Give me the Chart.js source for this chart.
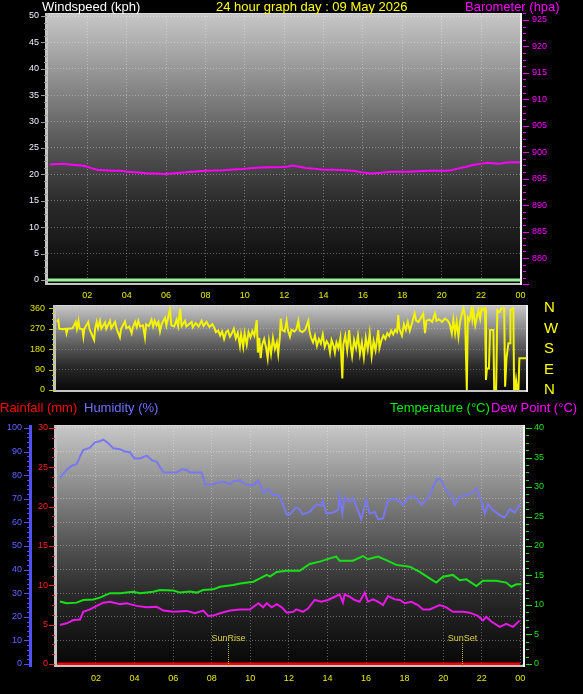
<!DOCTYPE html>
<html>
<head>
<meta charset="utf-8">
<script src="https://cdn.jsdelivr.net/npm/chart.js@4.4.1/dist/chart.umd.min.js"></script>
<style>
html, body { margin: 0; padding: 0; background: #000; width: 583px; height: 694px; overflow: hidden; }
canvas { position: absolute; left: 0; }
.lbl { position: absolute; font: 13px "Liberation Sans", Arial, sans-serif; line-height: 15px; white-space: nowrap; z-index: 2; }
</style>
</head>
<body>
<canvas id="topChart" width="583" height="302" style="top:0"></canvas>
<canvas id="dirChart" width="583" height="100" style="top:300px"></canvas>
<canvas id="envChart" width="583" height="279" style="top:415px"></canvas>

<div class="lbl" style="left:42px;top:-1px;color:#ffffff">Windspeed (kph)</div>
<div class="lbl" style="left:216px;top:-1px;color:#ffff00">24 hour graph day : 09 May 2026</div>
<div class="lbl" style="left:465px;top:-1px;color:#ff00ff">Barometer (hpa)</div>
<div class="lbl" style="left:0;top:400px;color:#ff0000">Rainfall (mm)</div>
<div class="lbl" style="left:84px;top:400px;color:#7070ff">Humidity (%)</div>
<div class="lbl" style="left:390px;top:400px;color:#00ee00">Temperature (°C)</div>
<div class="lbl" style="left:491px;top:400px;color:#ff00ff">Dew Point (°C)</div>

<script>
// ---- données ----
const hourTicks = [2, 4, 6, 8, 10, 12, 14, 16, 18, 20, 22, 24];

// panneau du haut : vent + baromètre
const windTicks = [0, 5, 10, 15, 20, 25, 30, 35, 40, 45, 50];
const baroTicks = [880, 885, 890, 895, 900, 905, 910, 915, 920, 925];
const windHours = [0, 3, 6, 9, 12, 15, 18, 21, 24];
const windSpeed = [0, 0, 0, 0, 0, 0, 0, 0, 0];
const baroHours = [0.1, 0.7, 1.4, 1.9, 2.2, 2.5, 2.9, 3.3, 3.7, 4.0, 4.4, 4.8, 5.1, 5.5, 5.9, 6.3, 6.7, 7.0, 7.5, 8.0,
  8.5, 8.9, 9.4, 9.9, 10.4, 10.8, 11.3, 11.9, 12.2, 12.4, 12.7, 13.1, 13.5, 14.0, 14.5, 15.1, 15.5, 15.9, 16.4, 16.9,
  17.4, 17.9, 18.3, 18.8, 19.3, 19.8, 20.2, 20.5, 20.8, 21.2, 21.6, 22.0, 22.3, 22.6, 22.9, 23.2, 23.5, 23.8, 24.0];
const baroValues = [897.7, 897.8, 897.6, 897.4, 897.0, 896.7, 896.6, 896.5, 896.5, 896.3, 896.2, 896.1, 896.0, 896.0, 895.9, 896.0, 896.1, 896.2, 896.35, 896.5,
  896.55, 896.6, 896.75, 896.85, 897.0, 897.1, 897.15, 897.2, 897.3, 897.5, 897.3, 897.0, 896.9, 896.7, 896.7, 896.6, 896.5, 896.2, 896.0, 896.1,
  896.3, 896.3, 896.3, 896.4, 896.5, 896.5, 896.5, 896.6, 896.9, 897.2, 897.6, 897.8, 898.0, 897.9, 897.8, 898.0, 898.1, 898.1, 898.1];

// panneau du milieu : direction du vent
const dirTicks = [0, 90, 180, 270, 360];
const compassLabels = ['N', 'E', 'S', 'W', 'N'];
const dirHours = [0.00, 0.07, 0.12, 0.30, 0.45, 0.49, 0.55, 0.80, 0.96, 1.02, 1.10, 1.16, 1.30, 1.35, 1.40, 1.60, 1.66, 1.86, 1.90, 1.95,
  2.03, 2.10, 2.20, 2.27, 2.46, 2.52, 2.71, 2.78, 2.97, 3.05, 3.22, 3.28, 3.48, 3.55, 3.70, 3.82, 3.88, 4.00, 4.08, 4.16,
  4.25, 4.40, 4.50, 4.56, 4.70, 4.84, 4.92, 5.00, 5.10, 5.19, 5.27, 5.35, 5.53, 5.60, 5.78, 5.85, 6.00, 6.12, 6.20, 6.30,
  6.38, 6.55, 6.62, 6.75, 6.89, 6.95, 7.10, 7.25, 7.40, 7.50, 7.65, 7.80, 7.95, 8.05, 8.13, 8.25, 8.35, 8.45, 8.55, 8.65,
  8.75, 8.85, 8.95, 9.05, 9.15, 9.25, 9.36, 9.42, 9.53, 9.60, 9.71, 9.80, 9.90, 10.00, 10.10, 10.22, 10.28, 10.35, 10.42, 10.50,
  10.60, 10.70, 10.78, 10.85, 10.95, 11.05, 11.15, 11.25, 11.32, 11.40, 11.45, 11.52, 11.65, 11.75, 11.82, 11.92, 12.00, 12.15, 12.25, 12.35,
  12.42, 12.55, 12.70, 12.86, 12.92, 13.00, 13.10, 13.20, 13.30, 13.40, 13.50, 13.60, 13.70, 13.80, 13.90, 13.97, 14.05, 14.15, 14.22, 14.30,
  14.40, 14.50, 14.60, 14.65, 14.75, 14.85, 14.95, 15.02, 15.10, 15.20, 15.30, 15.40, 15.50, 15.60, 15.70, 15.80, 15.90, 16.00, 16.10, 16.20,
  16.30, 16.44, 16.50, 16.60, 16.70, 16.80, 16.90, 17.00, 17.10, 17.20, 17.30, 17.40, 17.46, 17.52, 17.65, 17.75, 17.85, 17.95, 18.05, 18.15,
  18.30, 18.38, 18.50, 18.60, 18.74, 18.83, 18.90, 19.05, 19.20, 19.34, 19.42, 19.55, 19.70, 19.85, 20.00, 20.10, 20.20, 20.28, 20.37, 20.45,
  20.54, 20.62, 20.70, 20.80, 20.88, 20.97, 21.02, 21.10, 21.20, 21.25, 21.30, 21.40, 21.48, 21.56, 21.65, 21.72, 21.80, 21.90, 21.95, 22.00,
  22.10, 22.16, 22.33, 22.37, 22.47, 22.53, 22.65, 22.75, 22.88, 22.93, 23.00, 23.10, 23.18, 23.20, 23.30, 23.35, 23.39, 23.44, 23.49, 23.55,
  23.61, 23.66, 24.03];
const dirValues = [300, 308, 270, 268, 270, 250, 270, 272, 300, 270, 305, 270, 268, 235, 270, 300, 270, 228, 220, 270,
  300, 272, 305, 270, 298, 270, 304, 272, 300, 270, 232, 270, 302, 272, 280, 250, 275, 300, 278, 305,
  280, 285, 232, 290, 282, 310, 280, 305, 285, 300, 258, 290, 318, 285, 356, 285, 280, 310, 282, 360,
  282, 305, 280, 290, 300, 276, 295, 280, 305, 282, 300, 278, 290, 275, 255, 262, 240, 258, 225, 255,
  262, 235, 250, 270, 228, 252, 195, 245, 190, 250, 200, 255, 232, 260, 240, 308, 165, 230, 140, 200,
  225, 185, 140, 215, 160, 230, 180, 210, 160, 230, 315, 265, 258, 305, 262, 235, 265, 258, 268, 305,
  262, 255, 265, 305, 258, 230, 210, 240, 195, 225, 205, 245, 190, 215, 200, 165, 220, 195, 165, 210,
  185, 230, 51, 200, 240, 175, 264, 200, 150, 220, 185, 240, 160, 210, 145, 230, 180, 250, 150, 215,
  175, 264, 185, 220, 240, 225, 250, 238, 262, 245, 265, 255, 330, 270, 240, 290, 265, 300, 262, 290,
  337, 305, 300, 315, 337, 250, 305, 310, 300, 337, 305, 312, 300, 315, 305, 290, 250, 310, 250, 300,
  235, 300, 330, 360, 320, 0, 320, 308, 352, 315, 352, 286, 320, 352, 315, 360, 352, 360, 44, 95,
  95, 264, 264, 0, 0, 352, 345, 360, 360, 14, 140, 206, 206, 352, 360, 360, 0, 0, 44, 0,
  0, 140, 140];

// panneau du bas : pluie, humidité, température, point de rosée
const humTicks = [0, 10, 20, 30, 40, 50, 60, 70, 80, 90, 100];
const rainTicks = [0, 5, 10, 15, 20, 25, 30];
const tempTicks = [0, 5, 10, 15, 20, 25, 30, 35, 40];
const rainHours = [0, 6, 12, 18, 24];
const rainValues = [0, 0, 0, 0, 0];
const humHours = [0.13, 0.48, 0.74, 1.0, 1.17, 1.34, 1.69, 1.95, 2.2, 2.38, 2.64, 2.9, 3.25, 3.5, 3.76, 4.0, 4.28, 4.63, 4.89, 5.15,
  5.49, 6.18, 6.44, 6.7, 6.87, 7.48, 7.65, 8.08, 8.26, 8.6, 8.95, 9.12, 9.47, 9.73, 10.16, 10.42, 10.67, 10.93, 11.19, 11.45,
  11.63, 11.89, 12.06, 12.32, 12.47, 12.73, 13.08, 13.42, 13.68, 13.77, 13.94, 14.29, 14.55, 14.63, 14.77, 14.89, 15.15, 15.32, 15.5, 15.75,
  16.01, 16.19, 16.45, 16.62, 16.88, 17.14, 17.49, 17.75, 17.92, 18.18, 18.43, 18.69, 18.87, 19.12, 19.38, 19.64, 19.82, 19.99, 20.16, 20.42,
  20.6, 20.86, 21.2, 21.46, 21.72, 21.98, 22.15, 22.32, 22.58, 22.93, 23.19, 23.45, 23.71, 23.96];
const humValues = [78.9, 82.2, 84.0, 84.7, 87.9, 90.7, 91.7, 93.9, 94.4, 95.1, 93.5, 91.4, 91.0, 90.0, 89.7, 87.1, 87.1, 88.3, 86.4, 85.7,
  81.2, 81.1, 82.5, 82.2, 81.1, 81.1, 76.1, 76.1, 76.7, 77.3, 76.1, 77.5, 77.8, 76.1, 75.8, 77.8, 72.7, 74.1, 71.6, 71.6,
  68.8, 63.4, 63.4, 66.0, 66.2, 63.4, 64.5, 67.6, 67.1, 69.1, 63.8, 64.2, 65.3, 71.3, 63.8, 70.4, 68.8, 70.2, 66.7, 61.4,
  69.5, 63.8, 64.5, 61.4, 61.7, 69.5, 69.9, 68.8, 67.4, 70.4, 71.3, 69.5, 67.4, 69.5, 73.0, 78.0, 78.4, 76.7, 73.4, 71.6,
  67.4, 70.9, 71.6, 72.3, 74.4, 69.1, 63.8, 67.6, 65.3, 63.1, 62.0, 65.7, 64.2, 67.6];
const tempHours = [0.13, 0.48, 1.0, 1.34, 1.86, 2.2, 2.73, 3.25, 3.93, 4.28, 4.97, 5.32, 6.01, 6.36, 6.87, 7.22, 7.56, 8.08, 8.43, 9.12,
  9.47, 10.16, 10.5, 10.85, 11.02, 11.37, 11.89, 12.56, 13.08, 13.6, 14.12, 14.46, 14.63, 15.32, 15.84, 16.1, 16.62, 17.05, 17.57, 18.26,
  18.78, 19.3, 19.64, 19.99, 20.5, 20.86, 21.2, 21.72, 22.06, 22.75, 23.27, 23.53, 23.79, 24.05];
const tempValues = [10.6, 10.3, 10.4, 10.85, 10.95, 11.25, 12.0, 12.0, 12.25, 12.0, 12.25, 12.55, 12.45, 12.1, 12.3, 12.1, 12.55, 12.65, 13.1, 13.4,
  13.65, 13.95, 14.5, 15.1, 14.8, 15.6, 15.8, 15.8, 16.95, 17.35, 17.9, 18.2, 17.5, 17.5, 18.3, 17.75, 18.2, 17.6, 16.8, 16.5,
  15.6, 14.5, 13.8, 14.8, 15.1, 14.2, 14.35, 13.2, 14.1, 14.1, 13.8, 13.1, 13.5, 13.5];
const dewHours = [0.13, 0.48, 0.83, 1.17, 1.34, 1.69, 2.04, 2.38, 2.73, 3.25, 3.59, 4.11, 4.63, 5.15, 5.49, 6.01, 6.7, 7.13, 7.56, 7.82,
  8.08, 8.43, 8.95, 9.47, 9.98, 10.42, 10.67, 10.85, 11.11, 11.37, 11.63, 11.89, 12.23, 12.38, 12.73, 12.99, 13.34, 13.68, 14.03, 14.38,
  14.63, 14.8, 14.89, 15.15, 15.41, 15.67, 15.93, 16.1, 16.36, 16.62, 16.88, 17.14, 17.49, 17.75, 18.01, 18.35, 18.69, 18.95, 19.3, 19.82,
  20.16, 20.5, 21.03, 21.37, 21.8, 22.06, 22.23, 22.49, 22.93, 23.27, 23.62, 23.96];
const dewValues = [6.6, 6.9, 7.45, 7.55, 8.85, 9.25, 9.85, 10.4, 10.55, 10.15, 10.3, 9.85, 9.6, 9.7, 9.05, 8.85, 9.0, 8.6, 9.05, 8.15,
  8.2, 8.6, 9.05, 9.25, 9.25, 10.3, 9.6, 10.3, 9.6, 10.15, 9.6, 8.7, 8.85, 9.25, 8.85, 9.4, 10.85, 10.55, 10.85, 11.4,
  11.8, 10.4, 11.8, 11.4, 10.85, 10.55, 12.1, 10.55, 10.95, 10.55, 10.0, 11.5, 10.95, 10.85, 10.3, 10.55, 10.0, 9.25, 9.25, 10.0,
  9.6, 8.85, 8.85, 8.7, 8.15, 7.35, 8.0, 7.2, 6.3, 6.8, 6.3, 7.35];
const sunEvents = ['SunRise', 'SunSet'];
const sunHours = [8.84, 20.97];

// ---- réglages communs ----
const FONT = '"Liberation Sans", Arial, sans-serif';
Chart.defaults.font.family = FONT;
Chart.defaults.animation = false;
Chart.defaults.plugins.legend.display = false;
Chart.defaults.plugins.tooltip.enabled = false;
Chart.defaults.elements.point.radius = 0;
Chart.defaults.elements.line.tension = 0;

const gridDots = { color: 'rgba(255,255,255,0.33)', drawTicks: false };
const noGrid = { display: false, drawTicks: false };
const noBorder = { display: false, dash: [1, 2] };

function pts(xs, ys) { return xs.map((x, i) => ({ x: x, y: ys[i] })); }
function fixedTicks(list) { return function(scale) { scale.ticks = list.map(v => ({ value: v })); }; }
function hourLabel(v) { return String(v % 24).padStart(2, '0'); }
// largeur fixe, sans marge automatique pour les étiquettes
function fixWidth(w) { return function(s) { s.width = w; s.paddingTop = 0; s.paddingBottom = 0; }; }
function fixHeight(h) { return function(s) { s.height = h; s.paddingLeft = 0; s.paddingRight = 0; }; }

// fond dégradé, cadre et petites graduations
function panel(opt) {
  return {
    id: 'panel',
    beforeDraw(chart) {
      const a = chart.chartArea, c = chart.ctx;
      const g = c.createLinearGradient(0, a.top, 0, a.bottom);
      g.addColorStop(0, '#c8c8c8');
      g.addColorStop(0.45, '#5e5e5e');
      g.addColorStop(0.7, '#2a2a2a');
      g.addColorStop(1, '#060606');
      c.fillStyle = g;
      c.fillRect(a.left, a.top, a.right - a.left, a.bottom - a.top);
    },
    afterDraw(chart) {
      const a = chart.chartArea, c = chart.ctx;
      c.save();
      c.lineWidth = 1; c.strokeStyle = '#d8d8d8';
      c.beginPath(); c.moveTo(a.left, a.top + 0.5); c.lineTo(a.right, a.top + 0.5); c.stroke();
      c.lineWidth = 3; c.strokeStyle = '#c4c4c4';
      c.beginPath(); c.moveTo(a.left - 1.5, a.top); c.lineTo(a.left - 1.5, a.bottom); c.stroke();
      c.lineWidth = 2;
      c.beginPath(); c.moveTo(a.left, a.bottom - 1); c.lineTo(a.right, a.bottom - 1); c.stroke();
      c.strokeStyle = '#f4f4f4';
      c.beginPath(); c.moveTo(a.right - 1, a.top); c.lineTo(a.right - 1, a.bottom); c.stroke();

      (opt.ticks || []).forEach(t => {
        const s = chart.scales[t.axis];
        c.strokeStyle = t.color; c.lineWidth = 1;
        const start = Math.ceil(s.min / t.step) * t.step;
        for (let v = start; v <= s.max + 1e-9; v += t.step) {
          const y = Math.round(s.getPixelForValue(v)) + 0.5;
          const major = Math.abs(v / t.major - Math.round(v / t.major)) < 1e-6;
          const len = major ? t.len + 3 : t.len;
          c.beginPath(); c.moveTo(t.x, y); c.lineTo(t.x + t.dir * len, y); c.stroke();
        }
        if (t.line) {
          c.lineWidth = t.line;
          c.beginPath(); c.moveTo(t.x + 0.5, a.top); c.lineTo(t.x + 0.5, a.bottom); c.stroke();
        }
      });
      if (opt.after) opt.after(chart, c);
      c.restore();
    }
  };
}

// ---- vent + baromètre ----
new Chart(document.getElementById('topChart'), {
  type: 'line',
  data: {
    datasets: [
      { data: pts(baroHours, baroValues), yAxisID: 'y1', borderColor: '#ff00ff', borderWidth: 2 },
      { data: pts(windHours, windSpeed), yAxisID: 'y', borderColor: '#98f098', borderWidth: 3 }
    ]
  },
  options: {
    responsive: false,
    layout: { padding: { top: 13 } },
    scales: {
      x: {
        type: 'linear', min: 0, max: 24.08,
        afterBuildTicks: fixedTicks(hourTicks), afterFit: fixHeight(17),
        grid: gridDots, border: noBorder,
        ticks: { color: '#e8e800', padding: 5, font: { size: 9 }, callback: hourLabel, autoSkip: false, maxRotation: 0 }
      },
      y: {
        position: 'left', min: -0.95, max: 50.57,
        afterBuildTicks: fixedTicks(windTicks), afterFit: fixWidth(48),
        grid: gridDots, border: noBorder,
        ticks: { color: '#eef2ff', padding: 9, font: { size: 9 }, autoSkip: false }
      },
      y1: {
        position: 'right', min: 874.9, max: 926.32,
        afterBuildTicks: fixedTicks(baroTicks), afterFit: fixWidth(61),
        grid: noGrid, border: { display: false },
        ticks: { color: '#ff00ff', padding: 10, font: { size: 9 }, autoSkip: false }
      }
    }
  },
  plugins: [panel({
    ticks: [
      { axis: 'y', step: 1.25, major: 5, color: '#9a9a9a', x: 47, dir: -1, len: 3 },
      { axis: 'y1', step: 1.25, major: 5, color: '#ff00ff', x: 523, dir: 1, len: 3 }
    ]
  })]
});

// ---- direction du vent ----
new Chart(document.getElementById('dirChart'), {
  type: 'line',
  data: {
    datasets: [
      { data: pts(dirHours, dirValues), yAxisID: 'y', borderColor: '#f4f400', borderWidth: 2 }
    ]
  },
  options: {
    responsive: false,
    layout: { padding: { top: 5, bottom: 8 } },
    scales: {
      x: { type: 'linear', display: false, min: -0.05, max: 24.1 },
      y: {
        position: 'left', min: -8.8, max: 374.5,
        afterBuildTicks: fixedTicks(dirTicks), afterFit: fixWidth(56),
        grid: { color: 'rgba(255,255,255,0.25)', drawTicks: false }, border: noBorder,
        ticks: { color: '#e0e000', padding: 11, font: { size: 9 }, autoSkip: false }
      },
      yc: {
        position: 'right', min: -8.8, max: 374.5,
        afterBuildTicks: fixedTicks(dirTicks), afterFit: fixWidth(55),
        grid: noGrid, border: { display: false },
        ticks: { color: '#ffff00', padding: 16, font: { size: 15 }, autoSkip: false,
                 callback: v => compassLabels[dirTicks.indexOf(v)] }
      }
    }
  },
  plugins: [panel({
    ticks: [
      { axis: 'y', step: 22.5, major: 90, color: '#c8c800', x: 55, dir: -1, len: 3 }
    ]
  })]
});

// ---- pluie, humidité, température, point de rosée ----
new Chart(document.getElementById('envChart'), {
  type: 'line',
  data: {
    datasets: [
      { data: pts(rainHours, rainValues), yAxisID: 'yRain', borderColor: '#ff0000', borderWidth: 3 },
      { data: pts(humHours, humValues), yAxisID: 'yHum', borderColor: '#7878f0', borderWidth: 2 },
      { data: pts(tempHours, tempValues), yAxisID: 'yTemp', borderColor: '#18e018', borderWidth: 2 },
      { data: pts(dewHours, dewValues), yAxisID: 'yTemp', borderColor: '#e818e8', borderWidth: 2 }
    ]
  },
  options: {
    responsive: false,
    layout: { padding: { top: 10 } },
    scales: {
      x: {
        type: 'linear', min: -0.02, max: 24.24,
        afterBuildTicks: fixedTicks(hourTicks), afterFit: fixHeight(27),
        grid: gridDots, border: noBorder,
        ticks: { color: '#e8e800', padding: 6, font: { size: 9 }, callback: hourLabel, autoSkip: false, maxRotation: 0 }
      },
      yHum: {
        position: 'left', weight: 1, min: -1.27, max: 101.27,
        afterBuildTicks: fixedTicks(humTicks), afterFit: fixWidth(31),
        grid: gridDots, border: noBorder,
        ticks: { color: '#6464ff', padding: 9, font: { size: 9 }, autoSkip: false }
      },
      yRain: {
        position: 'left', weight: 0, min: -0.38, max: 30.38,
        afterBuildTicks: fixedTicks(rainTicks), afterFit: fixWidth(26),
        grid: noGrid, border: { display: false },
        ticks: { color: '#ff2020', padding: 9, font: { size: 9 }, autoSkip: false }
      },
      yTemp: {
        position: 'right', min: -0.51, max: 40.51,
        afterBuildTicks: fixedTicks(tempTicks), afterFit: fixWidth(58),
        grid: noGrid, border: { display: false },
        ticks: { color: '#20e020', padding: 9, font: { size: 9 }, autoSkip: false }
      }
    }
  },
  plugins: [panel({
    ticks: [
      { axis: 'yHum', step: 2, major: 10, color: '#5050ff', x: 30, dir: -1, len: 3, line: 3 },
      { axis: 'yRain', step: 1.25, major: 5, color: '#ff2020', x: 55, dir: -1, len: 3 },
      { axis: 'yTemp', step: 1.25, major: 5, color: '#20e020', x: 526, dir: 1, len: 3 }
    ],
    after(chart, c) {
      const xs = chart.scales.x, a = chart.chartArea;
      c.font = '9px ' + FONT;
      c.textAlign = 'center';
      c.fillStyle = '#d8d040';
      c.strokeStyle = '#b8b030';
      c.lineWidth = 1;
      c.setLineDash([1, 1]);
      sunEvents.forEach((name, i) => {
        const x = Math.round(xs.getPixelForValue(sunHours[i])) + 0.5;
        c.beginPath(); c.moveTo(x, a.bottom - 24); c.lineTo(x, a.bottom); c.stroke();
        c.fillText(name, x, a.bottom - 26);
      });
    }
  })]
});
</script>
</body>
</html>
